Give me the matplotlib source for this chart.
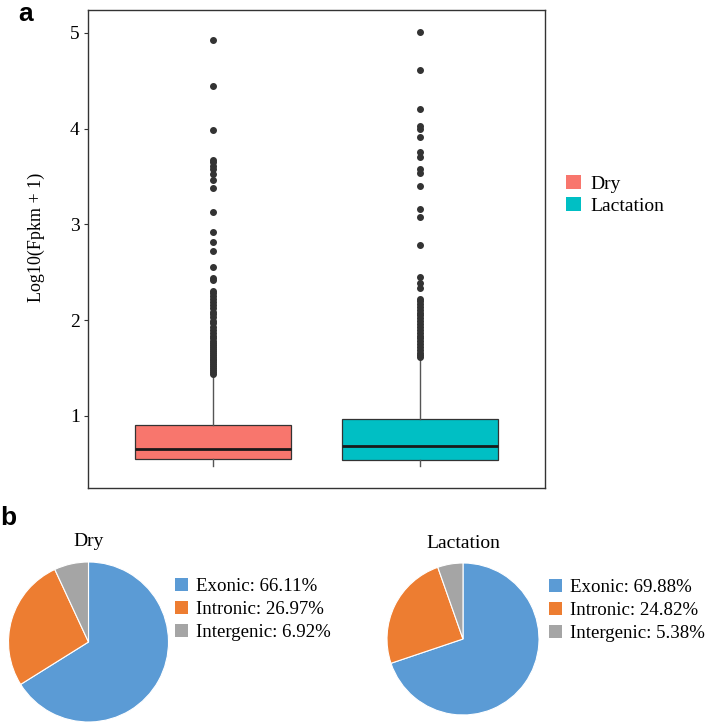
import matplotlib
matplotlib.use('Agg')
import matplotlib.pyplot as plt
from matplotlib.patches import Patch

plt.rcParams['font.family'] = ['Liberation Serif', 'DejaVu Serif']

# ---- panel a: box plot stats ----
groups = ['Dry', 'Lactation']
box_colors = ['#F8766D', '#00BFC4']
q1 = [0.554, 0.544]
median = [0.659, 0.687]
q3 = [0.906, 0.966]
whis_lo = [0.478, 0.478]
whis_hi = [1.43, 1.58]

dry_outliers = [4.93, 4.45, 3.99, 3.67, 3.65, 3.61, 3.58, 3.53, 3.46, 3.38,
                3.13, 2.92, 2.82, 2.72, 2.56, 2.44, 2.42,
                2.31, 2.28, 2.25, 2.22, 2.19, 2.16, 2.13, 2.09, 2.06, 2.03,
                1.99, 1.97, 1.93, 1.90, 1.87, 1.84, 1.81, 1.78, 1.76, 1.74,
                1.72, 1.70, 1.68, 1.66, 1.64, 1.62, 1.60, 1.58, 1.56, 1.54,
                1.52, 1.50, 1.48, 1.46, 1.44]
lac_outliers = [5.01, 4.61, 4.21, 4.03, 4.00, 3.91, 3.76, 3.70, 3.58, 3.54,
                3.40, 3.16, 3.08, 2.79, 2.45, 2.39, 2.34,
                2.22, 2.20, 2.17, 2.14, 2.11, 2.08, 2.05, 2.02, 1.99, 1.96,
                1.93, 1.90, 1.87, 1.84, 1.81, 1.78, 1.75, 1.72, 1.69, 1.66,
                1.64, 1.62]
outliers = [dry_outliers, lac_outliers]

# ---- panel b: pie shares ----
regions = ['Exonic', 'Intronic', 'Intergenic']
pie_colors = ['#5B9BD5', '#ED7D31', '#A5A5A5']
dry_share = [66.11, 26.97, 6.92]
lac_share = [69.88, 24.82, 5.38]

W, H = 707, 725
fig = plt.figure(figsize=(W / 100, H / 100), dpi=100)

def px_axes(left, top, right, bottom):
    return fig.add_axes([left / W, 1 - bottom / H, (right - left) / W, (bottom - top) / H])

# box plot
ax = px_axes(88, 10, 545, 488)
stats = []
for i in range(2):
    stats.append(dict(q1=q1[i], med=median[i], q3=q3[i],
                      whislo=whis_lo[i], whishi=whis_hi[i], fliers=outliers[i]))
bp = ax.bxp(stats, positions=[1, 2], widths=0.75, patch_artist=True, showcaps=False,
            boxprops=dict(edgecolor='#333333', linewidth=0.9),
            medianprops=dict(color='#1a1a1a', linewidth=2.0),
            whiskerprops=dict(color='#555555', linewidth=1.0),
            flierprops=dict(marker='o', markerfacecolor='#333333', markeredgecolor='#333333',
                            markersize=4.0, linestyle='none'))
for patch, c in zip(bp['boxes'], box_colors):
    patch.set_facecolor(c)
ax.set_xlim(0.4, 2.6)
ax.set_ylim(0.248, 5.24)
ax.set_xticks([])
ax.set_yticks([1, 2, 3, 4, 5])
ax.tick_params(axis='y', labelsize=14, length=3, width=0.8, color='#333333', pad=3)
for s in ax.spines.values():
    s.set_color('#333333')
    s.set_linewidth(1.0)
ax.set_ylabel('Log10(Fpkm + 1)', fontsize=13)
ax.yaxis.set_label_coords(-0.094, 0.525)

handles = [Patch(facecolor=c, edgecolor='none') for c in box_colors]
fig.legend(handles, groups, loc='upper left', bbox_to_anchor=(566 / W, 1 - 175 / H),
           frameon=False, fontsize=14, handlelength=0.75, handleheight=0.75,
           handletextpad=0.5, labelspacing=0.22, borderpad=0, borderaxespad=0)

fig.text(18 / W, 1 - 2 / H, 'a', fontsize=19, fontweight='bold', family='Liberation Sans',
         ha='left', va='top')
fig.text(0 / W, 1 - 506 / H, 'b', fontsize=19, fontweight='bold', family='Liberation Sans',
         ha='left', va='top')

# pies
def draw_pie(cx, cy, r, shares, title, leg_x, leg_top):
    pax = px_axes(cx - r, cy - r, cx + r, cy + r)
    pax.pie(shares, colors=pie_colors, startangle=90, counterclock=False,
            wedgeprops=dict(edgecolor='white', linewidth=0.8))
    pax.set_xlim(-1, 1)
    pax.set_ylim(-1, 1)
    pax.set_aspect('equal')
    pax.axis('off')
    fig.text(cx / W, 1 - (cy - r - 20) / H, title, fontsize=14, ha='center', va='center')
    labels = [f'{n}: {v:.2f}%' for n, v in zip(regions, shares)]
    hs = [Patch(facecolor=c, edgecolor='none') for c in pie_colors]
    fig.legend(hs, labels, loc='upper left', bbox_to_anchor=(leg_x / W, 1 - leg_top / H),
               frameon=False, fontsize=13.6, handlelength=0.7, handleheight=0.7,
               handletextpad=0.4, labelspacing=0.3, borderpad=0, borderaxespad=0)

draw_pie(88.5, 642, 80, dry_share, 'Dry', 175, 578)
draw_pie(463, 639, 76, lac_share, 'Lactation', 549, 579)

fig.savefig('out.png', dpi=100)
